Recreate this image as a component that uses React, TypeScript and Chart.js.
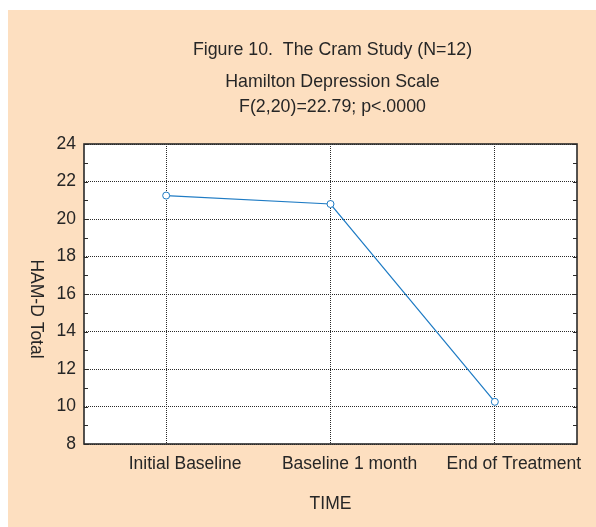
import React, { useEffect, useRef } from "react";
import { Chart, registerables } from "chart.js";

Chart.register(...registerables);

const categories = ["Initial Baseline", "Baseline 1 month", "End of Treatment"];
const hamdValues = [21.25, 20.8, 10.25];
const titleLines = [
  "Figure 10.  The Cram Study (N=12)",
  "Hamilton Depression Scale",
  "F(2,20)=22.79; p<.0000",
];
const xAxisTitle = "TIME";
const yAxisTitle = "HAM-D Total";
const yMin = 8;
const yMax = 24;
const yStep = 2;

const FONT = '"Liberation Sans", Arial, sans-serif';
const TEXT = "#262626";
const BG = "#fddfc0";

const decorPlugin = {
  id: "decor",
  beforeDraw(chart: any) {
    const { ctx, chartArea } = chart;
    ctx.save();
    ctx.fillStyle = BG;
    ctx.fillRect(0, 0, chart.width, chart.height);
    ctx.fillStyle = "#ffffff";
    ctx.fillRect(chartArea.left, chartArea.top, chartArea.right - chartArea.left, chartArea.bottom - chartArea.top);
    ctx.restore();
  },
  afterDraw(chart: any) {
    const { ctx, chartArea } = chart;
    const { left, right, top, bottom } = chartArea;
    const cx = (left + right) / 2 + 2;
    ctx.save();
    ctx.fillStyle = TEXT;
    ctx.font = `17.8px ${FONT}`;
    ctx.textAlign = "center";
    ctx.textBaseline = "alphabetic";
    const baselines = [45, 77, 102];
    titleLines.forEach((t, i) => ctx.fillText(t, cx, baselines[i]));
    ctx.font = `17.5px ${FONT}`;
    ctx.fillText(xAxisTitle, cx - 2, 499);
    ctx.save();
    ctx.translate(27.5, 299);
    ctx.rotate(Math.PI / 2);
    ctx.textBaseline = "middle";
    ctx.fillText(yAxisTitle, 0, 0);
    ctx.restore();

    // frame
    ctx.strokeStyle = "#2a2a2a";
    ctx.lineWidth = 1.6;
    ctx.strokeRect(left, top, right - left, bottom - top);
    // minor/major ticks inside
    const ys = chart.scales.y;
    ctx.lineWidth = 1;
    for (let v = yMin; v <= yMax; v += 1) {
      const py = Math.round(ys.getPixelForValue(v)) + 0.5;
      ctx.beginPath();
      ctx.moveTo(left, py);
      ctx.lineTo(left + 4, py);
      ctx.moveTo(right - 4, py);
      ctx.lineTo(right, py);
      ctx.stroke();
    }
    ctx.restore();
  },
};

export default function App() {
  const ref = useRef<HTMLCanvasElement>(null);
  useEffect(() => {
    if (!ref.current) return;
    const chart = new Chart(ref.current, {
      type: "line",
      data: {
        labels: categories,
        datasets: [
          {
            data: hamdValues,
            borderColor: "#1e7bc4",
            borderWidth: 1.2,
            pointRadius: 3.5,
            pointBackgroundColor: "#ffffff",
            pointBorderColor: "#1e7bc4",
            pointBorderWidth: 1,
            tension: 0,
            fill: false,
          },
        ],
      },
      options: {
        responsive: false,
        animation: false,
        devicePixelRatio: 1,
        layout: { padding: { top: 134, right: 19, left: 0, bottom: 0 } },
        plugins: { legend: { display: false }, tooltip: { enabled: false }, title: { display: false } },
        scales: {
          x: {
            offset: true,
            grid: { offset: false, color: "#2a2a2a", lineWidth: 1, drawTicks: false },
            border: { display: false, dash: [1, 1] },
            ticks: { color: TEXT, font: { family: FONT, size: 17.5 }, padding: 10, labelOffset: 19, maxRotation: 0, autoSkip: false },
            afterFit: (s: any) => { s.height = 83; },
          },
          y: {
            min: yMin,
            max: yMax,
            grid: { color: "#2a2a2a", lineWidth: 1, drawTicks: false },
            border: { display: false, dash: [1, 1] },
            ticks: { stepSize: yStep, color: TEXT, font: { family: FONT, size: 17.5 }, padding: 8 },
            afterFit: (s: any) => { s.width = 76; },
          },
        },
      },
      plugins: [decorPlugin],
    });
    return () => chart.destroy();
  }, []);
  return (
    <div style={{ position: "absolute", left: 8, top: 10, width: 588, height: 517 }}>
      <canvas ref={ref} width={588} height={517} style={{ display: "block" }} />
    </div>
  );
}
